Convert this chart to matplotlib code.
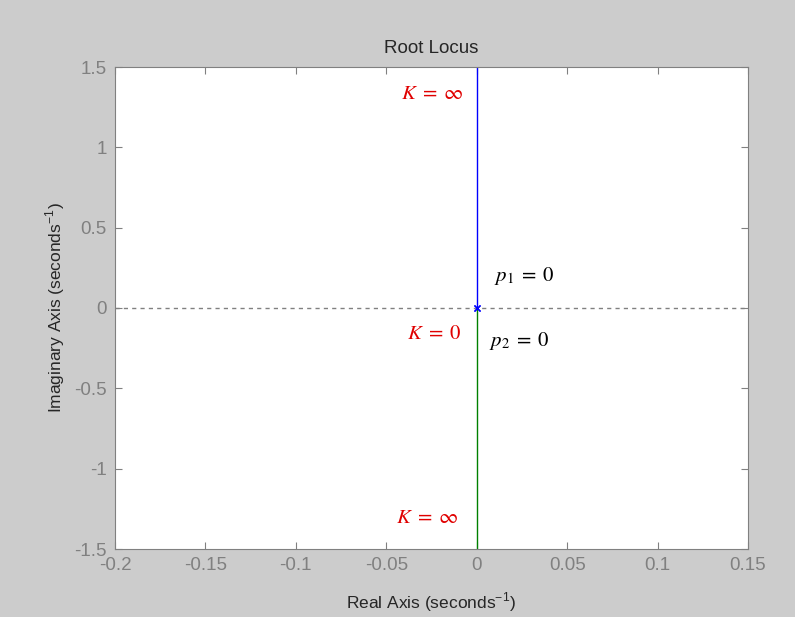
import matplotlib
matplotlib.use("Agg")
import matplotlib.pyplot as plt
import numpy as np

plt.rcParams['mathtext.fontset'] = 'stix'
plt.rcParams['font.family'] = ['Liberation Sans', 'DejaVu Sans']

# Root locus branches (G = K/s^2): poles at origin, branches along imaginary axis
branch1_re = [0.0, 0.0]
branch1_im = [0.0, 1.5]
branch2_re = [0.0, 0.0]
branch2_im = [0.0, -1.5]
pole_re = [0.0, 0.0]
pole_im = [0.0, 0.0]

xlim = (-0.2, 0.15)
ylim = (-1.5, 1.5)
xticks = [-0.2, -0.15, -0.1, -0.05, 0, 0.05, 0.1, 0.15]
xticklabels = ['-0.2', '-0.15', '-0.1', '-0.05', '0', '0.05', '0.1', '0.15']
yticks = [-1.5, -1, -0.5, 0, 0.5, 1, 1.5]
yticklabels = ['-1.5', '-1', '-0.5', '0', '0.5', '1', '1.5']

fig = plt.figure(figsize=(7.95, 6.17), dpi=100, facecolor='#cccccc')
ax = fig.add_axes([115/795, 1-549/617, 633/795, 482/617])
ax.set_facecolor('white')

ax.axhline(0, color='#808080', linestyle=(0, (3, 3)), linewidth=1)
ax.plot(branch1_re, branch1_im, color='#0000ff', linewidth=1)
ax.plot(branch2_re, branch2_im, color='#008000', linewidth=1)
ax.plot(pole_re, pole_im, 'x', color='#0000ff', markersize=5, markeredgewidth=1)

ax.set_xlim(*xlim)
ax.set_ylim(*ylim)
ax.set_xticks(xticks)
ax.set_xticklabels(xticklabels)
ax.set_yticks(yticks)
ax.set_yticklabels(yticklabels)
ax.tick_params(direction='in', top=True, right=True, length=5, color='#808080',
               labelcolor='#808080', labelsize=13.5, pad=6)
for s in ax.spines.values():
    s.set_color('#808080')

ax.set_title('Root Locus', fontsize=13.5, color='#262626', pad=10)
ax.set_xlabel('Real Axis (seconds$^{\\mathregular{-1}}$)', fontsize=12.5, color='#262626', labelpad=12)
ax.set_ylabel('Imaginary Axis (seconds$^{\\mathregular{-1}}$)', fontsize=12.5, color='#262626', labelpad=5)

red = '#e00000'
ax.text(-0.0075, 1.338, r'$K\;=\;\infty$', color=red, fontsize=15, ha='right', va='center')
ax.text(0.0094, 0.199, r'$p_1\;=\;0$', color='black', fontsize=15, ha='left', va='center')
ax.text(-0.0083, -0.156, r'$K\;=\;0$', color=red, fontsize=15, ha='right', va='center')
ax.text(0.0066, -0.205, r'$p_2\;=\;0$', color='black', fontsize=15, ha='left', va='center')
ax.text(-0.010, -1.307, r'$K\;=\;\infty$', color=red, fontsize=15, ha='right', va='center')

fig.savefig('out.png', dpi=100, facecolor=fig.get_facecolor())
